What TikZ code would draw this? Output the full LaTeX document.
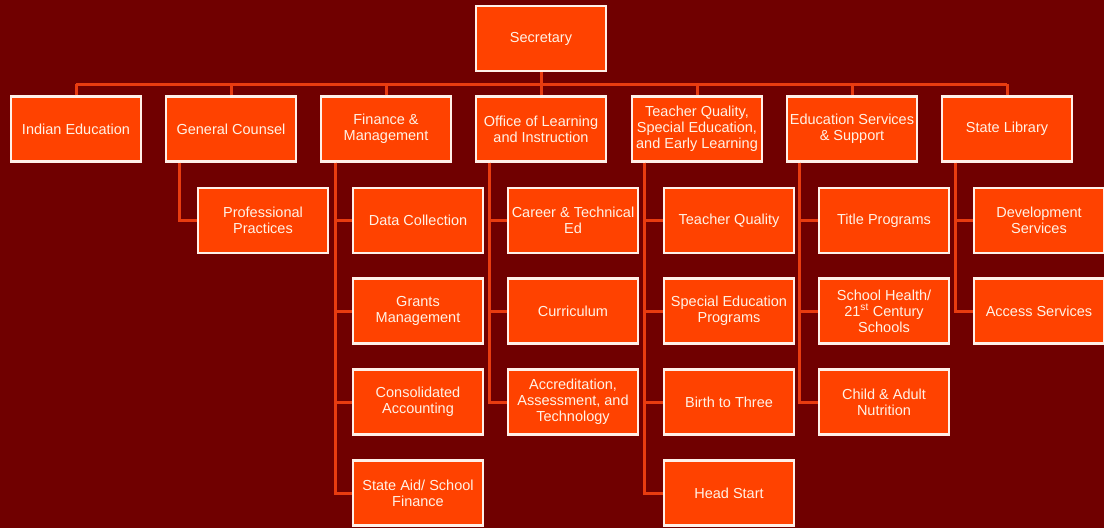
\documentclass[tikz,border=0pt]{standalone}
\usepackage{fontspec}
\setmainfont{Liberation Sans}
\definecolor{bg}{HTML}{700000}
\definecolor{boxfill}{HTML}{FF4200}
\definecolor{boxline}{HTML}{FFF0E8}
\definecolor{conn}{HTML}{E83C10}
\definecolor{txt}{HTML}{FFF2E6}
\begin{document}
\begin{tikzpicture}[x=1pt,y=-1pt,
  unit/.style={draw=boxline, line width=2.2pt, fill=boxfill, text=txt,
    minimum width=130pt, minimum height=65pt, inner sep=0pt, align=center,
    font=\fontsize{14.5}{16}\selectfont},
  link/.style={draw=conn, line width=3pt}]
\fill[bg] (0,0) rectangle (1104,528);
\useasboundingbox (0,0) rectangle (1104,528);
\coordinate (busy) at (0,84);
% top
\node[unit] (sec) at (541,38.5) {Secretary};
\node[unit] (t1) at (76,129) {Indian Education};
\node[unit] (t2) at (231,129) {General Counsel};
\node[unit] (t3) at (386,129) {Finance \&\\Management};
\node[unit] (t4) at (541,129) {Office of Learning\\and Instruction};
\node[unit] (t5) at (697,129) {Teacher Quality,\\Special Education,\\and Early Learning};
\node[unit] (t6) at (852,129) {Education Services\\\& Support};
\node[unit] (t7) at (1007,129) {State Library};
% children
\node[unit] (c21) at (263,220.5) {Professional\\Practices};
\node[unit] (c31) at (418,220.5) {Data Collection};
\node[unit] (c32) at (418,311) {Grants\\Management};
\node[unit] (c33) at (418,402) {Consolidated\\Accounting};
\node[unit] (c34) at (418,493) {State Aid/ School\\Finance};
\node[unit] (c41) at (573,220.5) {Career \& Technical\\Ed};
\node[unit] (c42) at (573,311) {Curriculum};
\node[unit] (c43) at (573,402) {Accreditation,\\Assessment, and\\Technology};
\node[unit] (c51) at (729,220.5) {Teacher Quality};
\node[unit] (c52) at (729,311) {Special Education\\Programs};
\node[unit] (c53) at (729,402) {Birth to Three};
\node[unit] (c54) at (729,493) {Head Start};
\node[unit] (c61) at (884,220.5) {Title Programs};
\node[unit] (c62) at (884,311) {School Health/\\21\textsuperscript{st} Century\\Schools};
\node[unit] (c63) at (884,402) {Child \& Adult\\Nutrition};
\node[unit] (c71) at (1039,220.5) {Development\\Services};
\node[unit] (c72) at (1039,311) {Access Services};
% connectors
\path[link] (sec.south) -- (sec.south |- busy);
\path[link] (t1.north |- busy) -- (t7.north |- busy);
\foreach \t in {t1,t2,t3,t4,t5,t6,t7}{
  \path[link] (\t.north) -- (\t.north |- busy);
}
\path[link] ([xshift=15pt]t2.south west) |- (c21.west);
\foreach \c in {c31,c32,c33,c34}{\path[link] ([xshift=16pt]t3.south west) |- (\c.west);}
\foreach \c in {c41,c42,c43}{\path[link] ([xshift=15pt]t4.south west) |- (\c.west);}
\foreach \c in {c51,c52,c53,c54}{\path[link] ([xshift=14pt]t5.south west) |- (\c.west);}
\foreach \c in {c61,c62,c63}{\path[link] ([xshift=14pt]t6.south west) |- (\c.west);}
\foreach \c in {c71,c72}{\path[link] ([xshift=15pt]t7.south west) |- (\c.west);}
\end{tikzpicture}
\end{document}
